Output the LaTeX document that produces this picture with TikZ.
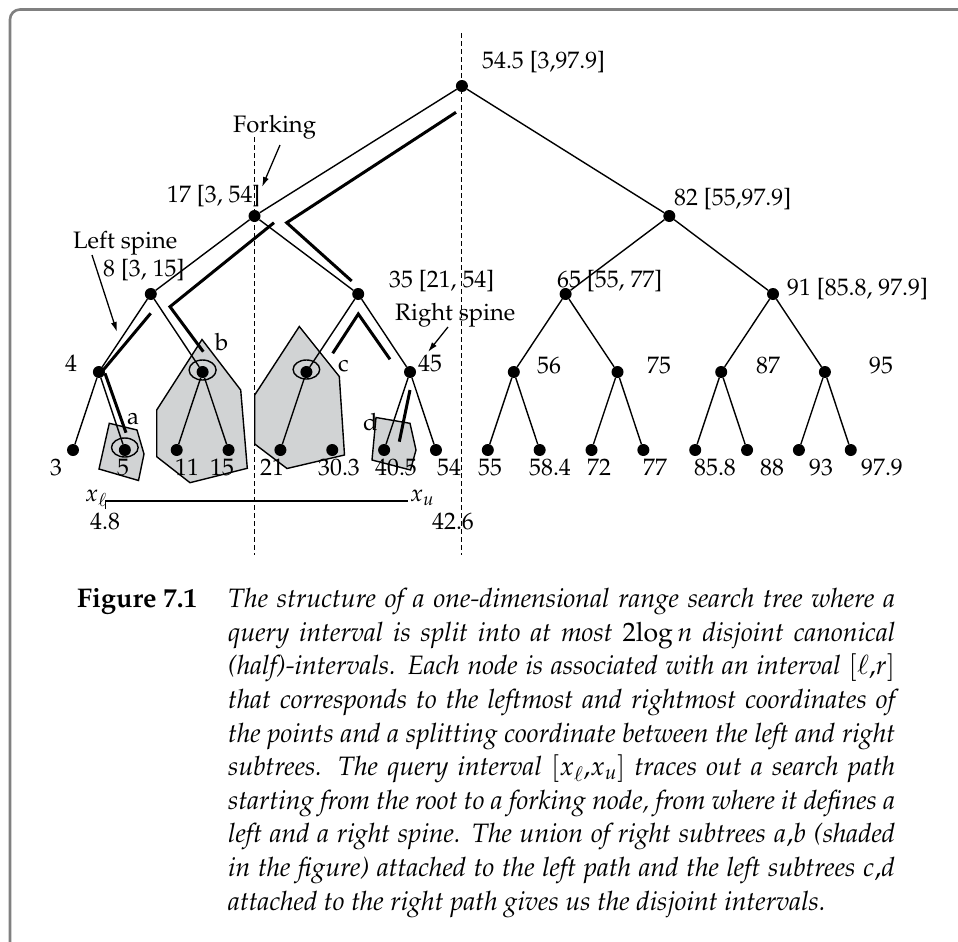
\documentclass[tikz,border=0pt]{standalone}
\usepackage[T1]{fontenc}
\usepackage{mathpazo}
\usetikzlibrary{arrows.meta}
\definecolor{shade}{RGB}{209,211,212}
\definecolor{framegray}{RGB}{128,128,128}
\begin{document}
\begin{tikzpicture}[x=1bp,y=-1bp,
  dot/.style={circle,fill=black,inner sep=0,minimum size=12bp},
  edge/.style={line width=1.4bp},
  thickpath/.style={line width=3bp,miter limit=10},
  lbl/.style={inner sep=0,anchor=base west,font=\fontsize{23.8bp}{28bp}\selectfont},
  captext/.style={inner sep=0,anchor=base west,font=\fontsize{26.6bp}{33.6bp}\selectfont},
  region/.style={fill=shade,draw=black,line width=1.4bp},
  ring/.style={draw=black,line width=1.4bp},
  guide/.style={line width=1.2bp,dash pattern=on 4.5bp off 3.5bp},
  pointer/.style={line width=1.3bp,-{Latex[length=10bp,width=6bp]}}
]
\useasboundingbox (0,0) rectangle (958,942);
% frame
\draw[framegray,line width=2.6bp,rounded corners=10bp] (10,960) -- (10,9.5) -- (980,9.5);

% shaded canonical subtrees
\draw[region] (109.3,423.3) -- (137,430) -- (144,454) -- (138.5,480.5) -- (99,469) -- cycle;
\draw[region] (202,339.5) -- (240.7,390) -- (247.3,468.3) -- (190,482.7) -- (156.7,456.7) -- (156.7,410) -- cycle;
\draw[region] (299.3,326.5) -- (339.3,376.5) -- (344.5,455) -- (287,468.5) -- (254.7,444) -- (254.7,395) -- cycle;
\draw[region] (376,417.5) -- (410,423.3) -- (416,450) -- (410.5,470) -- (372,460) -- cycle;

% dashed guides
\coordinate (g1a) at (254.5,137);
\coordinate (g1b) at (254.5,555);
\coordinate (g2a) at (461.5,33);
\coordinate (g2b) at (461.5,555);
\draw[guide] (g1a) -- (g1b);
\draw[guide] (g2a) -- (g2b);

% tree nodes
\node[dot] (root) at (461.9,86) {};
\node[dot] (n17) at (254.5,216) {};
\node[dot] (n82) at (669.3,216) {};
\node[dot] (n8) at (150.8,294) {};
\node[dot] (n35) at (358.2,294) {};
\node[dot] (n65) at (565.6,294) {};
\node[dot] (n91) at (773,294) {};
\node[dot] (n4) at (98.9,372) {};
\node[dot] (nb) at (202.6,372) {};
\node[dot] (nc) at (306.4,372) {};
\node[dot] (n45) at (410,372) {};
\node[dot] (n56) at (513.8,372) {};
\node[dot] (n75) at (617.5,372) {};
\node[dot] (n87) at (721.2,372) {};
\node[dot] (n95) at (824.9,372) {};
\foreach \i/\nm in {0/l3,1/l5,2/l11,3/l15,4/l21,5/l30,6/l40,7/l54,8/l55,9/l58,10/l72,11/l77,12/l85,13/l88,14/l93,15/l97}
  \node[dot] (\nm) at ({73+51.85*\i},450) {};

% edges
\draw[edge] (root) -- (n17);
\draw[edge] (root) -- (n82);
\draw[edge] (n17) -- (n8);
\draw[edge] (n17) -- (n35);
\draw[edge] (n82) -- (n65);
\draw[edge] (n82) -- (n91);
\draw[edge] (n8) -- (n4);
\draw[edge] (n8) -- (nb);
\draw[edge] (n35) -- (nc);
\draw[edge] (n35) -- (n45);
\draw[edge] (n65) -- (n56);
\draw[edge] (n65) -- (n75);
\draw[edge] (n91) -- (n87);
\draw[edge] (n91) -- (n95);
\draw[edge] (n4) -- (l3);
\draw[edge] (n4) -- (l5);
\draw[edge] (nb) -- (l11);
\draw[edge] (nb) -- (l15);
\draw[edge] (nc) -- (l21);
\draw[edge] (n45) -- (l40);
\draw[edge] (n45) -- (l54);
\draw[edge] (n56) -- (l55);
\draw[edge] (n56) -- (l58);
\draw[edge] (n75) -- (l72);
\draw[edge] (n75) -- (l77);
\draw[edge] (n87) -- (l85);
\draw[edge] (n87) -- (l88);
\draw[edge] (n95) -- (l93);
\draw[edge] (n95) -- (l97);

% rings
\draw[ring] ([yshift=2bp]nb.center) ellipse [x radius=13.5bp, y radius=10bp];
\draw[ring] ([yshift=2.5bp]nc.center) ellipse [x radius=13.3bp, y radius=9.5bp];
\draw[ring] ([yshift=2.5bp]l5.center) ellipse [x radius=13.3bp, y radius=9.5bp];

% search path marks
\draw[thickpath] (456,112.3) -- (286.7,222.7) -- (351.7,281);
\draw[thickpath] (274,222.7) -- (170,306.7) -- (203.3,351.7);
\draw[thickpath] (150.7,313.3) -- (103.3,370);
\draw[thickpath] (105,373.3) -- (126,432.7);
\draw[thickpath] (332.7,353.3) -- (358.3,314) -- (390,359.3);
\draw[thickpath] (410,390) -- (399.3,441.7);

% labels of inner nodes
\node[lbl] (t54) at (482,68) {54.5 [3,97.9]};
\node[lbl] (t17) at (167,202) {17 [3, 54]};
\node[lbl] (t82) at (674,205) {82 [55,97.9]};
\node[lbl] (t8) at (103,276) {8 [3, 15]};
\node[lbl] (t35) at (389,287.3) {35 [21, 54]};
\node[lbl] (t65) at (557,287.3) {65 [55, 77]};
\node[lbl] (t91) at (787,295) {91 [85.8, 97.9]};
\node[lbl] (t4) at (65,371.7) {4};
\node[lbl] (tb) at (215,350) {b};
\node[lbl] (tc) at (338,371) {c};
\node[lbl] (t45) at (418,371.7) {45};
\node[lbl] (t56) at (537,373.3) {56};
\node[lbl] (t75) at (647,373.3) {75};
\node[lbl] (t87) at (756,373.3) {87};
\node[lbl] (t95) at (869,373.3) {95};
\node[lbl] (ta) at (127,424) {a};
\node[lbl] (td) at (363,430) {d};
% leaf labels
\foreach \x/\t/\nm in {50/3/s3,117/5/s5,175/11/s11,210/15/s15,260/21/s21,318/30.3/s30,375/40.5/s40,437/54/s54,478/55/s55,529/58.4/s58,587/72/s72,643/77/s77,694/85.8/s85,760/88/s88,809/93/s93,861/97.9/s97}
  \node[lbl] (\nm) at (\x,475) {\t};

% annotations
\node[lbl] (fork) at (233,132.5) {Forking};
\node[lbl] (lsp) at (73,248) {Left spine};
\node[lbl] (rsp) at (395,320) {Right spine};
\coordinate (fa) at (280,145);
\coordinate (fb) at (262,187);
\coordinate (la) at (92,255);
\coordinate (lb) at (117,332);
\coordinate (ra) at (448,327);
\coordinate (rb) at (428,352);
\draw[pointer] (fa) -- (fb);
\draw[pointer] (la) -- (lb);
\draw[pointer] (ra) -- (rb);

% query interval
\coordinate (qa) at (105.3,509);
\coordinate (qb) at (105.3,501);
\coordinate (qc) at (408.3,501);
\draw[edge] (qa) -- (qb) -- (qc);
\node[lbl] (xl) at (85,501.7) {$x_\ell$};
\node[lbl] (xu) at (410,501.7) {$x_u$};
\node[lbl] (v48) at (90,529.3) {4.8};
\node[lbl] (v426) at (432,529.3) {42.6};

% caption
\node[captext] (fig) at (77,607.7) {\fontsize{27bp}{33.6bp}\selectfont\bfseries Figure 7.1};
\begin{scope}[every node/.style={captext}]
\node (c1) at (228,607.7) {\makebox[667bp][s]{\itshape The structure of a one-dimensional range search tree where a}};
\node (c2) at (228,641.3) {\makebox[667bp][s]{\itshape query interval is split into at most $2\mathrm{log}\,n$ disjoint canonical}};
\node (c3) at (228,674.9) {\makebox[667bp][s]{\itshape (half)-intervals. Each node is associated with an interval $[\ell{,}r]$}};
\node (c4) at (228,708.5) {\makebox[667bp][s]{\itshape that corresponds to the leftmost and rightmost coordinates of}};
\node (c5) at (228,742.1) {\makebox[667bp][s]{\itshape the points and a splitting coordinate between the left and right}};
\node (c6) at (228,775.7) {\makebox[667bp][s]{\itshape subtrees. The query interval $[x_\ell{,}x_u]$ traces out a search path}};
\node (c7) at (228,809.3) {\makebox[667bp][s]{\itshape starting from the root to a forking node, from where it defines a}};
\node (c8) at (228,842.9) {\makebox[667bp][s]{\itshape left and a right spine. The union of right subtrees $a{,}b$ (shaded}};
\node (c9) at (228,876.5) {\makebox[667bp][s]{\itshape in the figure) attached to the left path and the left subtrees $c{,}d$}};
\node (c10) at (228,910.1) {\itshape attached to the right path gives us the disjoint intervals.};
\end{scope}
\end{tikzpicture}
\end{document}
